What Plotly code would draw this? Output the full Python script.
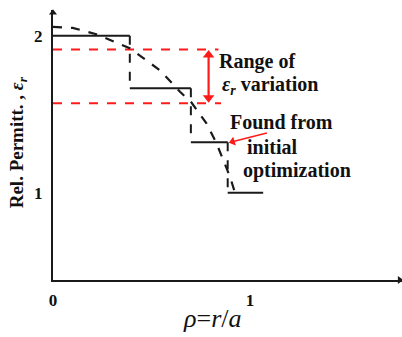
import plotly.graph_objects as go

# data
step_edges = [0.0, 0.39, 0.70, 0.887, 1.067]
step_levels = [2.0, 1.665, 1.321, 1.0]
curve_x = [0.0, 0.1, 0.22, 0.39, 0.543, 0.645, 0.704, 0.78, 0.83, 0.898, 0.924]
curve_y = [2.057, 2.05, 2.01, 1.92, 1.78, 1.643, 1.573, 1.44, 1.315, 1.104, 1.0]
range_hi, range_lo = 1.913, 1.57
range_hi_end, range_lo_end = 0.84, 0.853
x_ticks = [0, 1]
y_ticks = [1, 2]
x_max, y_min, y_max = 1.772, 0.444, 2.164

serif = "Liberation Serif"
black = "#1a1a1a"
red = "#ff1a1a"

# build horizontals (solid) and verticals (dashed)
hx, hy, vx, vy = [], [], [], []
for i, lv in enumerate(step_levels):
    hx += [step_edges[i], step_edges[i + 1], None]
    hy += [lv, lv, None]
    if i < len(step_levels) - 1:
        vx += [step_edges[i + 1], step_edges[i + 1], None]
        vy += [lv, step_levels[i + 1], None]

fig = go.Figure()
fig.add_trace(go.Scatter(x=[0, range_hi_end], y=[range_hi, range_hi], mode="lines",
                         line=dict(color=red, width=2, dash="dash")))
fig.add_trace(go.Scatter(x=[0, range_lo_end], y=[range_lo, range_lo], mode="lines",
                         line=dict(color=red, width=2, dash="dash")))
fig.add_trace(go.Scatter(x=hx, y=hy, mode="lines", line=dict(color=black, width=2)))
fig.add_trace(go.Scatter(x=vx, y=vy, mode="lines", line=dict(color=black, width=2, dash="dash")))
fig.add_trace(go.Scatter(x=curve_x, y=curve_y, mode="lines", line=dict(color=black, width=2.2, dash="dash")))

# double-headed range arrow
ax_x = 0.79
fig.add_trace(go.Scatter(x=[ax_x, ax_x], y=[range_hi - 0.045, range_lo + 0.045], mode="lines",
                         line=dict(color=red, width=2.2)))
fig.add_trace(go.Scatter(x=[ax_x, ax_x], y=[range_hi - 0.035, range_lo + 0.035], mode="markers",
                         marker=dict(symbol=["triangle-up", "triangle-down"], size=10, color=red)))
# pointer arrow
fig.add_trace(go.Scatter(x=[1.086, 0.92], y=[1.38, 1.328], mode="lines",
                         line=dict(color=red, width=1.5)))
fig.add_trace(go.Scatter(x=[0.912], y=[1.325], mode="markers",
                         marker=dict(symbol="triangle-left", size=8, color=red, angle=-17)))
# axis arrowheads
fig.add_trace(go.Scatter(x=[0, x_max - 0.012], y=[y_max - 0.018, y_min], mode="markers", cliponaxis=False,
                         marker=dict(symbol=["triangle-up", "triangle-right"], size=7, color=black)))

tf = dict(family=serif, size=17, color="#111", weight="bold")
fig.update_layout(
    width=402, height=337, margin=dict(l=53, r=0, t=10, b=57),
    plot_bgcolor="white", paper_bgcolor="white", showlegend=False,
    xaxis=dict(range=[0, x_max], showgrid=False, zeroline=False, showline=True,
               linecolor=black, linewidth=2, tickvals=x_ticks, ticks="", tickfont=tf,
               ticklabelstandoff=4),
    yaxis=dict(range=[y_min, y_max], showgrid=False, zeroline=False, showline=True,
               linecolor=black, linewidth=2, tickvals=y_ticks, ticks="", tickfont=tf,
               ticklabelstandoff=5),
)

ann = []
lab = dict(family=serif, size=20, color="#111", weight="bold")
for txt, x, y in [("Range of", 0.832, 1.834),
                  ("<i>ε<sub>r</sub></i> variation", 0.85, 1.683),
                  ("Found from", 0.89, 1.452),
                  ("initial", 0.975, 1.292),
                  ("optimization", 0.955, 1.143)]:
    ann.append(dict(x=x, y=y, xref="x", yref="y", text=txt, showarrow=False,
                    xanchor="left", yanchor="middle", font=lab))
# axis titles
ann.append(dict(x=0, y=0.51, xref="paper", yref="paper", xshift=-35, textangle=-90,
                xanchor="center", yanchor="middle",
                text="Rel. Permitt. , <i>ε<sub>r</sub></i>", showarrow=False,
                font=dict(family=serif, size=19, color="#111", weight="bold")))
ann.append(dict(x=0.457, y=0, xref="paper", yref="paper", yshift=-38,
                xanchor="center", yanchor="middle",
                text="<i>ρ</i>=<i>r</i>/<i>a</i>", showarrow=False,
                font=dict(family=serif, size=26, color="#111")))
fig.update_layout(annotations=ann)

fig.write_html("out.html")
